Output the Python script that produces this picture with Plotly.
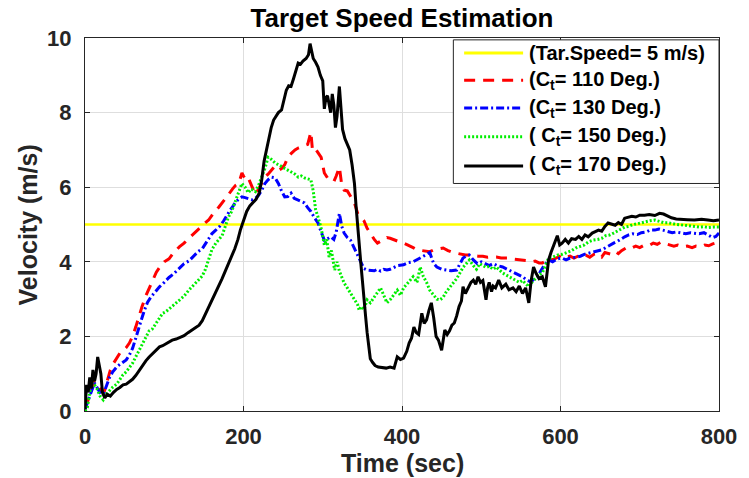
import plotly.graph_objects as go

# Target reference speed (m/s)
target_time = [0, 800]
target_speed = [5, 5]

# Estimated target speed (time s, velocity m/s) for each course angle Ct
est_110 = [(0,0.05),(4,0.3),(8,0.55),(12,0.8),(16,0.7),(20,0.55),(24,0.5),(28,0.8),(32,1.1),(36,1.28),
           (40,1.42),(44,1.55),(48,1.62),(52,1.7),(56,1.82),(60,2.0),(64,2.25),(68,2.55),(72,2.8),(77,3.1),
           (81,3.3),(85,3.45),(90,3.72),(95,3.88),(100,4.0),(106,4.08),(112,4.25),(119,4.4),(125,4.5),(132,4.65),
           (140,4.82),(146,4.95),(152,5.05),(156,5.12),(162,5.3),(169,5.47),(175,5.62),(181,5.8),(186,5.95),(190,6.05),
           (194,6.1),(198,6.38),(200,6.3),(203,6.2),(206,6.25),(210,6.05),(215,5.8),(219,5.95),(223,6.1),(227,6.27),
           (231,6.35),(235,6.45),(239,6.55),(244,6.45),(248,6.5),(252,6.6),(256,6.8),(260,6.9),(265,7.0),(269,7.05),
           (273,7.08),(277,7.1),(281,7.15),(285,7.48),(287,7.0),(290,7.05),(294,6.92),(298,6.8),(302,6.38),(306,6.25),
           (310,6.2),(314,6.15),(317,6.3),(321,6.54),(324,6.05),(327,5.92),(331,5.9),(336,5.7),(340,5.58),(344,5.3),
           (348,5.2),(352,5.1),(356,4.9),(360,4.75),(365,4.6),(369,4.5),(373,4.55),(377,4.62),(381,4.65),(385,4.63),
           (390,4.6),(395,4.55),(402,4.5),(408,4.45),(414,4.38),(419,4.32),(425,4.3),(430,4.28),(435,4.27),(440,4.32),
           (446,4.35),(452,4.37),(458,4.3),(464,4.25),(469,4.23),(475,4.2),(480,4.18),(485,4.18),(490,4.16),(496,4.15),
           (502,4.15),(508,4.12),(514,4.13),(519,4.13),(525,4.1),(530,4.1),(535,4.1),(541,4.07),(546,4.06),(552,4.05),
           (558,4.03),(563,4.0),(568,4.02),(573,3.97),(577,3.97),(582,4.02),(586,4.08),(590,4.05),(594,4.1),(598,4.15),
           (602,4.18),(607,4.12),(612,4.15),(617,4.1),(622,4.15),(627,4.13),(632,4.18),(637,4.12),(642,4.2),(647,4.22),
           (652,4.13),(656,4.25),(660,4.23),(664,4.2),(669,4.28),(673,4.22),(677,4.3),(681,4.35),(685,4.4),(690,4.37),
           (695,4.42),(700,4.38),(706,4.45),(711,4.43),(717,4.5),(722,4.47),(727,4.53),(733,4.48),(738,4.45),(743,4.42),
           (748,4.45),(754,4.4),(760,4.42),(766,4.38),(771,4.42),(777,4.4),(782,4.45),(787,4.43),(792,4.48),(797,4.5),
           (800,4.53)]

est_130 = [(0,0.05),(4,0.3),(8,0.55),(12,0.75),(16,0.6),(20,0.45),(24,0.5),(28,0.75),(31,0.9),(35,1.05),
           (40,1.18),(44,1.25),(48,1.3),(52,1.37),(56,1.5),(60,1.68),(64,1.95),(68,2.25),(71,2.44),(75,2.7),
           (79,2.92),(83,3.05),(88,3.18),(94,3.33),(100,3.45),(106,3.58),(112,3.68),(118,3.8),(125,3.95),(131,4.02),
           (137,4.15),(143,4.28),(148,4.35),(154,4.55),(160,4.75),(165,4.85),(170,4.95),(175,5.1),(179,5.25),(183,5.38),
           (187,5.5),(190,5.6),(194,5.68),(198,5.74),(202,5.72),(206,5.7),(211,5.66),(215,5.7),(219,5.78),(223,5.92),
           (227,6.1),(231,6.2),(235,6.27),(240,6.25),(244,6.1),(248,5.9),(252,5.74),(256,5.75),(260,5.84),(264,5.7),
           (269,5.65),(273,5.62),(277,5.58),(281,5.45),(285,5.35),(289,5.2),(294,5.04),(298,4.8),(302,4.58),(306,4.62),
           (310,4.67),(314,4.6),(317,4.8),(321,5.3),(324,4.95),(327,4.77),(331,4.65),(335,4.58),(340,4.35),(344,4.15),
           (348,4.0),(352,3.82),(356,3.78),(360,3.78),(365,3.76),(369,3.8),(373,3.75),(377,3.8),(381,3.78),(385,3.8),
           (390,3.85),(395,3.9),(402,3.92),(408,3.98),(414,4.0),(419,4.05),(423,4.1),(427,4.15),(431,4.2),(435,4.25),
           (440,3.95),(444,3.86),(450,3.8),(456,3.78),(462,3.76),(469,3.78),(473,3.95),(477,4.1),(481,4.15),(485,4.18),
           (490,4.05),(495,3.95),(500,4.0),(505,3.95),(510,3.9),(515,3.95),(520,3.9),(527,3.86),(533,3.8),(540,3.73),
           (546,3.68),(552,3.6),(558,3.5),(563,3.46),(567,3.55),(571,3.6),(575,3.75),(580,3.92),(585,4.05),(590,4.0),
           (596,4.08),(602,4.1),(607,4.05),(612,4.1),(619,4.12),(625,4.15),(630,4.2),(635,4.23),(640,4.25),(646,4.3),
           (652,4.32),(657,4.38),(662,4.45),(667,4.5),(672,4.55),(677,4.62),(681,4.67),(686,4.72),(691,4.75),(697,4.73),
           (702,4.78),(708,4.8),(713,4.85),(719,4.85),(724,4.88),(729,4.85),(735,4.82),(741,4.78),(746,4.8),(752,4.77),
           (758,4.75),(764,4.78),(769,4.77),(775,4.75),(781,4.78),(787,4.72),(792,4.65),(796,4.68),(800,4.77)]

est_150 = [(0,0.0),(3,0.1),(6,0.5),(9,0.75),(12,0.7),(15,0.6),(19,0.4),(23,0.3),(27,0.45),(31,0.55),
           (35,0.64),(40,0.72),(44,0.85),(48,0.97),(52,1.05),(56,1.15),(60,1.28),(64,1.45),(68,1.62),(73,1.82),
           (77,1.98),(81,2.15),(85,2.2),(90,2.35),(94,2.5),(98,2.62),(102,2.66),(107,2.75),(111,2.82),(115,2.9),
           (120,2.98),(125,3.08),(131,3.24),(136,3.35),(140,3.45),(144,3.55),(148,3.62),(152,3.8),(156,4.05),(160,4.32),
           (165,4.5),(169,4.6),(173,4.7),(177,4.95),(181,5.2),(185,5.35),(190,5.66),(194,5.9),(198,6.1),(202,6.0),
           (206,5.85),(210,5.95),(215,5.88),(219,6.05),(223,6.25),(227,6.5),(231,6.8),(235,6.75),(240,6.65),(244,6.6),
           (248,6.55),(252,6.5),(256,6.46),(260,6.4),(265,6.35),(269,6.27),(273,6.3),(277,6.25),(281,6.22),(285,6.2),
           (288,5.9),(291,5.4),(294,5.2),(298,4.9),(302,4.45),(305,4.6),(308,4.13),(311,4.3),(315,3.78),(318,4.0),
           (321,3.75),(324,3.6),(327,3.43),(331,3.3),(335,3.16),(338,3.05),(341,2.98),(344,2.85),(346,2.7),(348,2.8),
           (352,2.72),(356,2.98),(360,2.9),(365,3.06),(369,3.16),(373,3.3),(377,3.1),(381,2.9),(385,2.98),(389,3.1),
           (394,3.24),(398,3.1),(402,3.3),(406,3.4),(410,3.51),(414,3.6),(419,3.45),(423,3.86),(427,3.6),(431,3.45),
           (435,3.24),(440,3.1),(444,3.0),(448,2.98),(452,3.05),(456,3.2),(460,3.3),(465,3.45),(469,3.55),(473,3.7),
           (477,3.85),(481,3.95),(485,4.05),(490,3.9),(494,3.8),(498,3.95),(502,3.9),(506,3.85),(510,3.88),(515,3.8),
           (519,3.86),(523,3.78),(527,3.7),(531,3.65),(535,3.6),(540,3.55),(544,3.51),(548,3.45),(552,3.5),(556,3.4),
           (560,3.33),(564,3.45),(568,3.55),(573,3.65),(577,3.7),(581,3.9),(585,4.1),(590,4.12),(596,4.18),(602,4.2),
           (608,4.25),(614,4.3),(619,4.37),(625,4.42),(630,4.45),(635,4.53),(641,4.58),(647,4.6),(652,4.63),(657,4.7),
           (662,4.72),(667,4.77),(672,4.82),(677,4.88),(681,4.93),(686,4.95),(692,5.0),(697,5.02),(702,5.05),(708,5.08),
           (713,5.1),(719,5.12),(724,5.08),(730,5.05),(735,5.05),(741,5.02),(747,5.0),(752,4.99),(758,4.97),(764,4.95),
           (769,4.95),(775,4.93),(781,4.94),(787,4.92),(793,4.93),(800,4.93)]

est_170 = [(0,0.05),(2,0.7),(4,0.5),(6,0.9),(8,0.6),(10,1.1),(12,0.8),(14,1.0),(16,1.45),(18,1.2),
           (20,1.0),(22,0.5),(25,0.35),(28,0.45),(32,0.4),(36,0.5),(40,0.58),(44,0.63),(48,0.7),(52,0.72),
           (56,0.78),(60,0.85),(64,0.95),(68,1.08),(72,1.2),(77,1.35),(81,1.45),(86,1.55),(90,1.62),(94,1.72),
           (98,1.75),(102,1.8),(106,1.85),(110,1.9),(115,1.93),(120,1.98),(125,2.02),(130,2.1),(135,2.17),(140,2.24),
           (144,2.3),(148,2.42),(152,2.6),(156,2.78),(160,2.95),(165,3.15),(169,3.35),(173,3.55),(177,3.75),(181,3.95),
           (185,4.13),(189,4.35),(193,4.6),(196,4.85),(200,5.1),(204,5.35),(208,5.5),(212,5.6),(216,5.68),(220,5.85),
           (223,6.2),(226,6.7),(229,7.0),(232,7.3),(235,7.6),(238,7.8),(241,7.92),(244,8.0),(248,8.07),(251,8.3),
           (254,8.6),(257,8.72),(260,8.7),(263,8.9),(266,9.1),(269,9.33),(272,9.3),(275,9.38),(279,9.45),(282,9.55),
           (284,9.85),(286,9.6),(288,9.45),(291,9.35),(294,9.22),(297,9.0),(300,8.85),(302,8.1),(304,8.4),(306,8.45),
           (308,8.2),(310,8.0),(312,8.5),(314,8.2),(316,7.6),(318,7.9),(321,8.7),(323,8.1),(325,7.55),(328,7.3),
           (331,7.15),(334,7.0),(337,6.6),(340,6.1),(342,5.5),(344,4.9),(346,4.4),(348,3.97),(350,3.5),(352,3.1),
           (354,2.55),(356,2.1),(358,1.75),(360,1.4),(363,1.3),(366,1.22),(370,1.18),(375,1.17),(380,1.15),(385,1.18),
           (390,1.15),(394,1.45),(398,1.38),(402,1.42),(406,1.6),(409,1.82),(412,1.95),(415,2.25),(418,2.1),(421,2.05),
           (423,2.4),(425,2.62),(428,2.35),(431,2.44),(434,2.7),(437,2.9),(440,2.5),(443,2.0),(446,1.9),(450,1.63),
           (452,1.9),(454,2.17),(457,2.05),(460,2.15),(463,2.3),(466,2.36),(469,2.55),(472,2.8),(475,2.95),(477,3.33),
           (480,3.15),(484,3.3),(487,3.45),(490,3.51),(493,3.4),(496,3.6),(499,3.45),(502,3.5),(504,3.2),(506,2.98),
           (508,3.3),(510,3.45),(513,3.2),(515,3.35),(518,3.3),(522,3.51),(526,3.3),(531,3.4),(535,3.25),(540,3.3),
           (544,3.2),(548,3.35),(552,3.15),(556,3.3),(560,2.9),(563,3.5),(566,3.86),(569,3.7),(573,3.55),(577,3.6),
           (581,3.33),(583,3.8),(585,4.05),(588,4.25),(591,4.4),(594,4.58),(596,4.7),(599,4.45),(602,4.5),(606,4.6),
           (610,4.5),(614,4.62),(619,4.6),(623,4.68),(627,4.6),(631,4.72),(635,4.67),(640,4.77),(644,4.8),(648,4.85),
           (652,4.82),(656,4.95),(660,5.04),(665,5.0),(669,4.98),(673,5.05),(677,5.0),(681,5.17),(685,5.2),(690,5.22),
           (695,5.2),(700,5.25),(706,5.25),(712,5.27),(719,5.24),(725,5.3),(730,5.28),(735,5.22),(740,5.18),(746,5.15),
           (752,5.15),(760,5.13),(769,5.12),(778,5.14),(786,5.12),(793,5.1),(800,5.12)]

legend_labels = ["(Tar.Speed= 5 m/s)", "(C<sub>t</sub>= 110 Deg.)", "(C<sub>t</sub>= 130 Deg.)",
                 "( C<sub>t</sub>= 150 Deg.)", "( C<sub>t</sub>= 170 Deg.)"]

x_ticks = [0, 200, 400, 600, 800]
y_ticks = [0, 2, 4, 6, 8, 10]

FONT = "Liberation Sans, Arial, sans-serif"
INK = "#262626"
LW = 3

styles = [
    dict(color="#ffff00", dash="solid"),
    dict(color="#ff0000", dash="11px,8px"),
    dict(color="#0000ff", dash="8px,3px,2px,3px"),
    dict(color="#00ee00", dash="2px,2px"),
    dict(color="#000000", dash="solid"),
]

fig = go.Figure()

fig.add_trace(go.Scatter(x=target_time, y=target_speed, mode="lines",
                         line=dict(width=2.6, **styles[0]), name=legend_labels[0], showlegend=False))
for series, st, lab in zip([est_110, est_130, est_150, est_170], styles[1:], legend_labels[1:]):
    t, v = zip(*series)
    fig.add_trace(go.Scatter(x=list(t), y=list(v), mode="lines",
                             line=dict(width=LW, **st), name=lab, showlegend=False))

# Legend box drawn in the upper right corner of the axes
fig.add_shape(type="rect", xref="paper", yref="paper", x0=0.581, x1=1.0, y0=0.61, y1=0.995,
              line=dict(color=INK, width=1), fillcolor="white", layer="above")
row_y = [0.960, 0.887, 0.812, 0.735, 0.657]
for lab, st, yy in zip(legend_labels, styles, row_y):
    fig.add_shape(type="line", xref="paper", yref="paper", x0=0.598, x1=0.691, y0=yy, y1=yy,
                  line=dict(color=st["color"], dash=st["dash"], width=LW), layer="above")
    fig.add_annotation(xref="paper", yref="paper", x=0.697, y=yy, xanchor="left", yanchor="middle",
                       text=lab, showarrow=False,
                       font=dict(family=FONT, size=20, color="#000000", weight="bold"))

# Axis titles
fig.add_annotation(xref="paper", yref="paper", x=0.5, y=-0.14, xanchor="center", yanchor="middle",
                   text="Time (sec)", showarrow=False,
                   font=dict(family=FONT, size=25, color=INK, weight="bold"))
fig.add_annotation(xref="paper", yref="paper", x=-0.09, y=0.5, xanchor="center", yanchor="middle",
                   text="Velocity (m/s)", textangle=-90, showarrow=False,
                   font=dict(family=FONT, size=25, color=INK, weight="bold"))

axis_common = dict(showline=True, linecolor=INK, linewidth=1, mirror="ticks",
                   ticks="inside", ticklen=5, tickcolor=INK,
                   showgrid=True, gridcolor="#dedede", gridwidth=1, zeroline=False,
                   ticklabeloverflow="allow",
                   tickfont=dict(family=FONT, size=22, color=INK, weight="bold"))

fig.update_xaxes(range=[0, 800], tickvals=x_ticks, ticklabelstandoff=6, **axis_common)
fig.update_yaxes(range=[0, 10], tickvals=y_ticks, ticklabelstandoff=8, **axis_common)

fig.update_layout(
    width=749, height=478, autosize=False,
    margin=dict(l=85, r=24, t=38, b=67),
    paper_bgcolor="white", plot_bgcolor="white",
    title=dict(text="Target Speed Estimation", x=0.5, xref="paper", xanchor="center",
               y=0.962, yref="container", yanchor="middle",
               font=dict(family=FONT, size=26, color="#000000", weight="bold")),
    showlegend=False,
)

fig.write_html("out.html")
